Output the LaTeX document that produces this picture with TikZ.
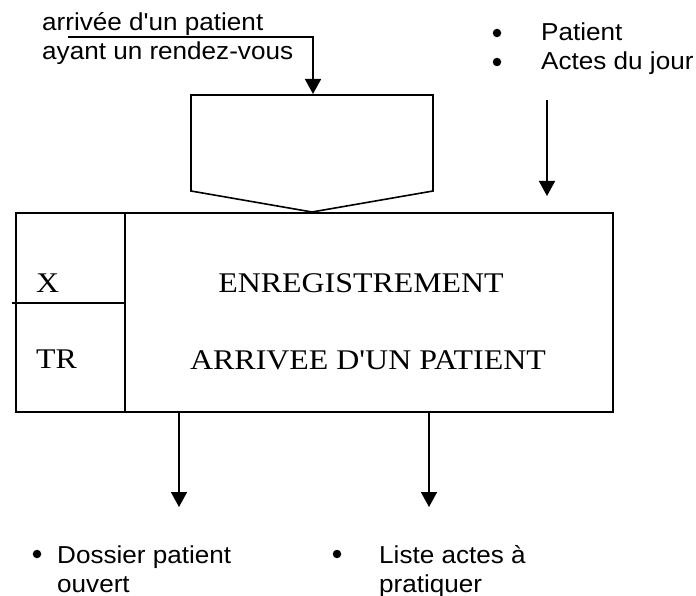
\documentclass[tikz,border=0pt]{standalone}
\usepackage{fontspec}
\setmainfont{Liberation Serif}[FakeStretch=1.12, Ligatures=TeXOff]
\newfontfamily\labelfont{Liberation Sans}[FakeStretch=1.065]
\usetikzlibrary{arrows.meta}
\begin{document}
\begin{tikzpicture}[x=1pt,y=-1pt,
  line/.style={line width=1.6pt},
  flow/.style={line, -{Triangle[width=16pt,length=15pt]}},
  boxtext/.style={font=\fontsize{28.5}{32}\selectfont, inner sep=0pt},
  lbl/.style={font=\labelfont\fontsize{24.5}{29}\selectfont, inner sep=0pt, anchor=base west},
  dot/.style={circle, fill=black, inner sep=0pt, minimum size=8.5pt}]
\useasboundingbox (0,0) rectangle (696,596);

% process box with its two left cells
\node[line, draw, minimum width=597pt, minimum height=199pt, inner sep=0pt, anchor=north west] (proc) at (15,212) {};
\coordinate (divtop) at (125,212);
\coordinate (divbot) at (125,411);
\draw[line] (divtop) -- (divbot);
\coordinate (cellL) at (12,303);
\coordinate (cellR) at (125,303);
\draw[line] (cellL) -- (cellR);

\node[boxtext, anchor=base west] (cx) at (36,292) {X};
\node[boxtext, anchor=base west] (ctr) at (36,368) {TR};
\node[boxtext, anchor=base] (title) at (361,292) {ENREGISTREMENT};
\node[boxtext, anchor=base] (event) at (368,369) {ARRIVEE D'UN PATIENT};

% triggering event (pentagon pointing down onto the box)
\coordinate (evNW) at (191,95);
\coordinate (evNE) at (433,95);
\coordinate (evSE) at (433,191);
\coordinate (evtip) at (312,212);
\coordinate (evSW) at (191,191);
\draw[line, line join=miter] (evNW) -- (evNE) -- (evSE) -- (evtip) -- (evSW) -- cycle;

% event label and its arrow
\node[lbl] (ev1) at (42,31) {arrivée d'un patient};
\node[lbl] (ev2) at (42,60) {ayant un rendez-vous};
\coordinate (evstart) at (68,37);
\coordinate (evbend) at (313,37);
\coordinate (evin) at (313,94);
\draw[flow] (evstart) -- (evbend) -- (evin);

% input data
\node[dot] (b1) at (497,33) {};
\node[dot] (b2) at (497,62) {};
\node[lbl] (in1) at (541,41) {Patient};
\node[lbl] (in2) at (541,70) {Actes du jour};
\coordinate (instart) at (547,100);
\coordinate (inend) at (547,196);
\draw[flow] (instart) -- (inend);

% outputs
\coordinate (out1s) at (179,411);
\coordinate (out1e) at (179,507);
\coordinate (out2s) at (429,411);
\coordinate (out2e) at (429,507);
\draw[flow] (out1s) -- (out1e);
\draw[flow] (out2s) -- (out2e);

\node[dot] (b3) at (37,554) {};
\node[lbl] (o1a) at (57,563) {Dossier patient};
\node[lbl] (o1b) at (57,592) {ouvert};
\node[dot] (b4) at (337,554) {};
\node[lbl] (o2a) at (379,563) {Liste actes à};
\node[lbl] (o2b) at (379,592) {pratiquer};
\end{tikzpicture}
\end{document}
